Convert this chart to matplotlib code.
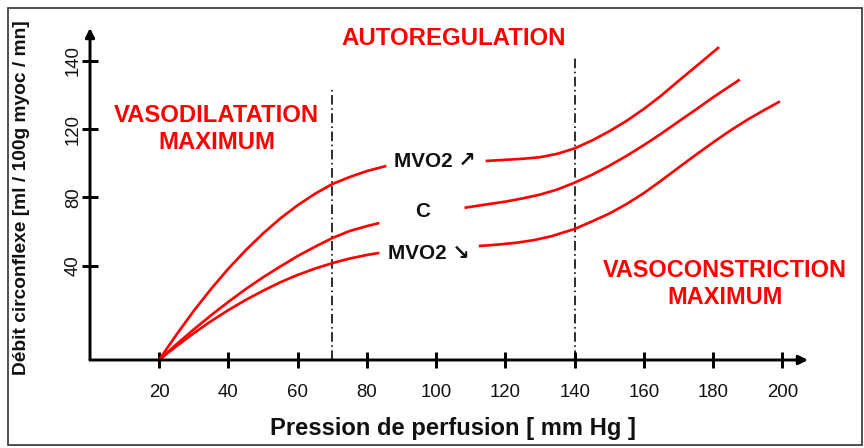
import numpy as np
import matplotlib
matplotlib.use("Agg")
import matplotlib.pyplot as plt
from matplotlib.patches import Rectangle

plt.rcParams['font.family'] = ['Liberation Sans', 'DejaVu Sans']

# ---------------- data ----------------
X_TICKS = [20, 40, 60, 80, 100, 120, 140, 160, 180, 200]
Y_TICKS = [40, 80, 120, 140]

# MVO2 increased (upper curve)
A_LEFT_X = [20, 22.5, 25, 30, 35, 40, 45, 50, 55, 60, 65, 70, 75, 80, 85.6]
A_LEFT_Y = [0, 5.5, 10.8, 20.9, 30.2, 38.8, 49.1, 58.9, 67.7, 75.4, 82.1, 87.8, 91.9, 95.4, 98.4]
A_RIGHT_X = [114.3, 120, 125, 130, 135, 140, 145, 150, 155, 160, 165, 170, 175, 181.7]
A_RIGHT_Y = [101.3, 102.0, 102.6, 103.5, 105.5, 108.7, 113.3, 118.7, 122.4, 125.9, 129.8, 134.1, 138.3, 144.0]

# Control (middle curve)
B_LEFT_X = [20, 22.5, 25, 30, 35, 40, 45, 50, 55, 60, 65, 70, 75, 80, 83.6]
B_LEFT_Y = [0, 3.4, 6.7, 13.0, 19.0, 24.7, 30.1, 35.1, 39.7, 45.7, 51.1, 56.2, 60.3, 63.2, 65.0]
B_RIGHT_X = [108.2, 115, 120, 125, 130, 135, 140, 145, 150, 155, 160, 165, 170, 175, 180, 187.7]
B_RIGHT_Y = [73.9, 76.0, 77.5, 79.4, 81.6, 84.6, 88.6, 93.2, 98.5, 104.3, 110.6, 117.3, 122.2, 125.7, 129.3, 134.5]

# MVO2 decreased (lower curve)
C_LEFT_X = [20, 22.5, 25, 30, 35, 40, 45, 50, 55, 60, 65, 70, 75, 80, 83.6]
C_LEFT_Y = [0, 3.0, 5.9, 11.4, 16.5, 21.2, 25.5, 29.4, 33.0, 36.1, 38.8, 41.5, 44.2, 46.3, 47.5]
C_RIGHT_X = [112.3, 118, 123, 128, 133, 140, 145, 150, 155, 160, 165, 170, 175, 180, 185, 190, 195, 199.3]
C_RIGHT_Y = [51.5, 52.4, 53.4, 54.9, 57.1, 61.5, 65.9, 70.5, 76.1, 82.5, 89.8, 97.4, 104.9, 112.2, 119.2, 122.8, 125.7, 128.1]

AUTOREG_LIMITS = [70, 140]

# the reference's y axis is schematic (unevenly spaced ticks): piecewise scale
Y_SCALE_VALUES = [0, 40, 80, 120, 140, 200]
Y_SCALE_SPAN = [0, 94.3, 162.7, 231.0, 299.3, 504.2]


def fwd(y):
    return np.interp(y, Y_SCALE_VALUES, Y_SCALE_SPAN)


def inv(h):
    return np.interp(h, Y_SCALE_SPAN, Y_SCALE_VALUES)


RED = '#FF0000'
W, H = 864, 448

fig = plt.figure(figsize=(W / 96, H / 96), dpi=96)
ax = fig.add_axes([90 / W, 1 - 360 / H, 718 / W, 332 / H])
ax.set_yscale('function', functions=(fwd, inv))
ax.set_xlim(0, 207.4)
ax.set_ylim(0, 149.6)

for xs, ys in [(A_LEFT_X, A_LEFT_Y), (A_RIGHT_X, A_RIGHT_Y),
               (B_LEFT_X, B_LEFT_Y), (B_RIGHT_X, B_RIGHT_Y),
               (C_LEFT_X, C_LEFT_Y), (C_RIGHT_X, C_RIGHT_Y)]:
    ax.plot(xs, ys, color=RED, lw=2.0, solid_capstyle='butt',
            solid_joinstyle='round', clip_on=False, zorder=3)

# autoregulation limits
for xv, top in zip(AUTOREG_LIMITS, [0.819, 0.919]):
    ax.axvline(xv, ymin=0, ymax=top, color='black', lw=1.2,
               dashes=(6, 2.2, 1, 2.2), zorder=2)

# axes with arrows
for s in ax.spines.values():
    s.set_visible(False)
arrow = dict(arrowstyle='-|>', lw=2.2, color='black', mutation_scale=14,
             shrinkA=0, shrinkB=0)
ax.annotate('', xy=(1, 0), xytext=(0, 0), xycoords='axes fraction', arrowprops=arrow)
ax.annotate('', xy=(0, 1), xytext=(0, 0), xycoords='axes fraction', arrowprops=arrow)

ax.set_xticks(X_TICKS)
ax.set_xticklabels([str(v) for v in X_TICKS])
ax.set_yticks(Y_TICKS)
ax.set_yticklabels([str(v) for v in Y_TICKS])
ax.yaxis.set_minor_locator(matplotlib.ticker.NullLocator())
ax.tick_params(direction='inout', length=12, width=2.2, color='black',
               labelsize=14, labelcolor='#111111')
ax.tick_params(axis='x', pad=12)
ax.tick_params(axis='y', pad=0, labelrotation=90)
for lab in ax.get_yticklabels():
    lab.set_va('center')


def px(x, y):
    return x / W, 1 - y / H


# axis titles
fig.text(*px(452.5, 428), 'Pression de perfusion [ mm Hg ]', ha='center', va='center',
         fontsize=17.8, fontweight='bold', color='#111111')
fig.text(*px(22, 198), 'Débit circonflexe [ml / 100g myoc / mn]', ha='center', va='center',
         rotation=90, fontsize=14.3, fontweight='bold', color='#111111')

# red zone titles
fig.text(*px(454, 38.5), 'AUTOREGULATION', ha='center', va='center',
         fontsize=18, fontweight='bold', color=RED)
fig.text(*px(216.5, 129), 'VASODILATATION\nMAXIMUM', ha='center', va='center',
         fontsize=17.9, fontweight='bold', color=RED, linespacing=1.2)
fig.text(*px(725, 284), 'VASOCONSTRICTION\nMAXIMUM', ha='center', va='center',
         fontsize=17.6, fontweight='bold', color=RED, linespacing=1.2)

# curve labels
fig.text(*px(435, 161.5), 'MVO2 ↗', ha='center', va='center',
         fontsize=15.5, fontweight='bold', color='#111111')
fig.text(*px(422.7, 211.7), 'C', ha='center', va='center',
         fontsize=15.5, fontweight='bold', color='#111111')
fig.text(*px(429, 253.3), 'MVO2 ↘', ha='center', va='center',
         fontsize=15.5, fontweight='bold', color='#111111')

# frame around the figure
fig.patches.append(Rectangle((8 / W, 1 - 445 / H), (862 - 8) / W, (445 - 8) / H,
                             transform=fig.transFigure, fill=False,
                             edgecolor='#3a3a3a', lw=1.3))

fig.savefig('out.png', dpi=96)
